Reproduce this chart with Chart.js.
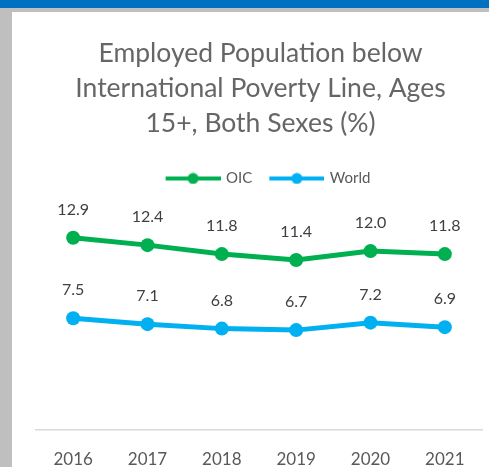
<!DOCTYPE html>
<html>
<head>
<meta charset="utf-8">
<script src="https://cdn.jsdelivr.net/npm/chart.js@4"></script>
<style>
  html, body { margin: 0; padding: 0; width: 489px; height: 467px; overflow: hidden; background: #fff; }
  #topBar { position: absolute; left: 0; top: 0; width: 489px; height: 8px; background: #0070C0; }
  #greyTop { position: absolute; left: 0; top: 8px; width: 489px; height: 4px; background: #BFBFBF; }
  #greyLeft { position: absolute; left: 0; top: 8px; width: 12px; height: 459px; background: #BFBFBF; }
  #wrap { position: absolute; left: 12px; top: 12px; width: 477px; height: 455px; }
</style>
</head>
<body>
<div id="topBar"></div>
<div id="greyTop"></div>
<div id="greyLeft"></div>
<div id="wrap"><canvas id="povertyChart" width="477" height="455"></canvas></div>
<script>
// Chart data
const years = ['2016', '2017', '2018', '2019', '2020', '2021'];
const oicValues = [12.9, 12.4, 11.8, 11.4, 12.0, 11.8];
const worldValues = [7.5, 7.1, 6.8, 6.7, 7.2, 6.9];

const FONT = 'Lato, "Open Sans", sans-serif';

// Legend symbol: short line with a dot in the middle (left margin gives the gap between items)
function legendSymbol(color) {
    const c = document.createElement('canvas');
    c.width = 72;
    c.height = 12;
    const g = c.getContext('2d');
    g.strokeStyle = color;
    g.lineWidth = 4;
    g.lineCap = 'butt';
    g.beginPath();
    g.moveTo(17, 6);
    g.lineTo(72, 6);
    g.stroke();
    g.fillStyle = color;
    g.beginPath();
    g.arc(44.5, 6, 5.5, 0, Math.PI * 2);
    g.fill();
    return c;
}

// Value labels above each point
const valueLabels = {
    id: 'valueLabels',
    afterDatasetsDraw(chart) {
        const ctx = chart.ctx;
        ctx.save();
        ctx.font = '16px ' + FONT;
        ctx.fillStyle = '#404040';
        ctx.textAlign = 'center';
        ctx.textBaseline = 'middle';
        chart.data.datasets.forEach((ds, i) => {
            chart.getDatasetMeta(i).data.forEach((pt, j) => {
                ctx.fillText(ds.data[j].toFixed(1), pt.x, pt.y - 28);
            });
        });
        ctx.restore();
    }
};

const ctx = document.getElementById('povertyChart').getContext('2d');
const povertyChart = new Chart(ctx, {
    type: 'line',
    data: {
        labels: years,
        datasets: [{
            label: 'OIC',
            data: oicValues,
            borderColor: '#00B050',
            backgroundColor: '#00B050',
            borderWidth: 5,
            pointRadius: 7,
            pointBorderWidth: 0,
            fill: false
        }, {
            label: 'World',
            data: worldValues,
            borderColor: '#00B0F0',
            backgroundColor: '#00B0F0',
            borderWidth: 5,
            pointRadius: 7,
            pointBorderWidth: 0,
            fill: false
        }]
    },
    options: {
        responsive: false,
        animation: false,
        layout: { padding: { left: 24, right: 4, top: 24, bottom: 0 } },
        plugins: {
            title: {
                display: true,
                text: ['Employed Population below', 'International Poverty Line, Ages', '15+, Both Sexes (%)'],
                color: '#666666',
                font: { family: FONT, size: 26.5, weight: 'normal', lineHeight: 1.32 },
                padding: { top: 0, bottom: 28 }
            },
            legend: {
                display: true,
                labels: {
                    color: '#595959',
                    font: { family: FONT, size: 15 },
                    usePointStyle: true,
                    pointStyleWidth: 68,
                    padding: 2,
                    generateLabels: (chart) => chart.data.datasets.map((ds, i) => ({
                        text: ds.label,
                        pointStyle: legendSymbol(ds.borderColor),
                        fontColor: '#595959',
                        datasetIndex: i,
                        lineWidth: 0
                    }))
                }
            },
            tooltip: { enabled: false }
        },
        scales: {
            x: {
                offset: true,
                grid: { display: false, drawTicks: false },
                border: { display: true, color: '#D9D9D9', width: 1.5 },
                ticks: { color: '#595959', font: { family: FONT, size: 17 }, padding: 19 },
                afterFit: (scale) => { scale.height = 37; }
            },
            y: {
                display: false,
                min: 0,
                max: 15.7
            }
        }
    },
    plugins: [valueLabels]
});
</script>
</body>
</html>
